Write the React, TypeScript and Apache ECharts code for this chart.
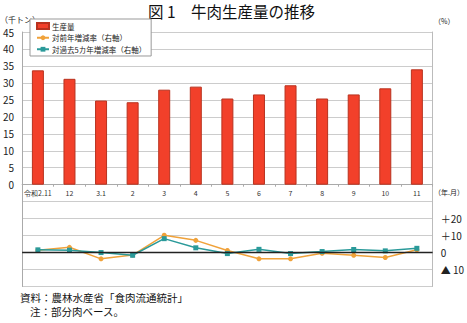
import React, { useEffect, useRef } from "react";
import * as echarts from "echarts";

const categories = ["令和2.11", "12", "3.1", "2", "3", "4", "5", "6", "7", "8", "9", "10", "11"];
const production = [33.7, 31.2, 24.8, 24.3, 28.0, 28.9, 25.4, 26.6, 29.3, 25.4, 26.6, 28.4, 34.0];
const yoyChange = [1.4, 3.1, -3.7, -1.5, 10.2, 7.2, 1.2, -3.7, -3.7, -0.4, -1.6, -2.9, 1.6];
const fiveYearChange = [1.6, 1.4, 0.0, -1.6, 8.2, 2.8, -0.6, 1.9, -0.6, 0.6, 1.8, 1.0, 2.5];

const seriesNames = ["生産量", "対前年増減率（右軸）", "対過去5カ年増減率（右軸）"];
const rightTickLabels: Record<string, string> = { "20": "＋20", "10": "＋10", "0": "0", "-10": "▲ 10" };

const FONT = "'Noto Sans CJK JP', 'Noto Sans', sans-serif";

const GRID_TOP = 32;
const GRID_BOTTOM = 36.5;
const LEFT_MIN = -30;
const LEFT_MAX = 45;

export default function App() {
  const ref = useRef<HTMLDivElement>(null);
  useEffect(() => {
    if (!ref.current) return;
    const chart = echarts.init(ref.current, undefined, { renderer: "svg" });
    const gridH = 323 - GRID_TOP - GRID_BOTTOM;
    const zeroOffset = -gridH * (0 - LEFT_MIN) / (LEFT_MAX - LEFT_MIN);
    chart.setOption({
      animation: false,
      textStyle: { fontFamily: FONT },
      grid: { left: 21, right: 34, top: GRID_TOP, bottom: GRID_BOTTOM, containLabel: false },
      legend: {
        orient: "vertical",
        left: 30,
        top: 19,
        itemGap: 4,
        itemWidth: 12,
        itemHeight: 6,
        padding: [3, 5, 3, 6],
        backgroundColor: "#fff",
        borderColor: "#999",
        borderWidth: 1,
        borderRadius: 0,
        textStyle: { fontSize: 7.5, color: "#222", fontFamily: FONT, padding: [0, 0, 0, -2] },
        data: [
          { name: seriesNames[0], icon: "rect" },
          { name: seriesNames[1] },
          { name: seriesNames[2] },
        ],
      },
      xAxis: {
        type: "category",
        data: categories,
        position: "bottom",
        offset: zeroOffset,
        axisLine: { show: true, onZero: false, lineStyle: { color: "#aaa", width: 1 } },
        axisTick: { show: true, alignWithLabel: false, length: 2, lineStyle: { color: "#aaa" } },
        axisLabel: { fontSize: 7, color: "#333", margin: 5, interval: 0, fontFamily: FONT },
        splitLine: { show: false },
      },
      yAxis: [
        {
          type: "value",
          min: LEFT_MIN,
          max: LEFT_MAX,
          interval: 5,
          axisLine: { show: true, lineStyle: { color: "#aaa" } },
          axisTick: { show: false },
          axisLabel: {
            fontSize: 10,
            color: "#222",
            margin: 8,
            formatter: (v: number) => (v >= 0 ? String(v) : ""),
          },
          splitLine: { show: true, lineStyle: { color: "#ccc", width: 1 } },
        },
        {
          type: "value",
          min: -20,
          max: 130,
          interval: 10,
          position: "right",
          axisLine: { show: true, lineStyle: { color: "#bbb" } },
          axisTick: { show: false },
          axisLabel: {
            fontSize: 10,
            color: "#222",
            margin: 8,
            formatter: (v: number) => rightTickLabels[String(v)] ?? "",
          },
          splitLine: { show: false },
        },
      ],
      series: [
        {
          name: seriesNames[0],
          type: "bar",
          yAxisIndex: 0,
          data: production,
          barWidth: 12,
          itemStyle: { color: "#F2402A", borderColor: "#B8321F", borderWidth: 1 },
        },
        {
          name: seriesNames[1],
          type: "line",
          yAxisIndex: 1,
          data: yoyChange,
          symbol: "circle",
          symbolSize: 5,
          lineStyle: { color: "#F0A23A", width: 1.5 },
          itemStyle: { color: "#F0A23A" },
          z: 3,
          markLine: {
            silent: true,
            symbol: "none",
            label: { show: false },
            lineStyle: { color: "#222", width: 1.3, type: "solid" },
            data: [{ yAxis: 0 }],
          },
        },
        {
          name: seriesNames[2],
          type: "line",
          yAxisIndex: 1,
          data: fiveYearChange,
          symbol: "rect",
          symbolSize: 5,
          lineStyle: { color: "#2A9A9A", width: 1.5 },
          itemStyle: { color: "#2A9A9A" },
          z: 4,
        },
      ],
      graphic: [
        {
          type: "text",
          left: 148,
          top: 3,
          style: { text: "図 1　牛肉生産量の推移", fontSize: 15.5, fontFamily: FONT, fill: "#111" },
        },
        {
          type: "text",
          left: 0,
          top: 15,
          style: { text: "（千トン）", fontSize: 8, fontFamily: FONT, fill: "#222" },
        },
        {
          type: "text",
          left: 434,
          top: 17,
          style: { text: "（%）", fontSize: 7, fontFamily: FONT, fill: "#222" },
        },
        {
          type: "text",
          left: 434,
          top: 188,
          style: { text: "（年.月）", fontSize: 7, fontFamily: FONT, fill: "#222" },
        },
        {
          type: "text",
          left: 20,
          top: 291,
          style: { text: "資料：農林水産省「食肉流通統計」", fontSize: 10.5, lineHeight: 12, fontFamily: FONT, fill: "#111" },
        },
        {
          type: "text",
          left: 30,
          top: 305,
          style: { text: "注：部分肉ベース。", fontSize: 10.5, lineHeight: 12, fontFamily: FONT, fill: "#111" },
        },
      ],
    });
    return () => chart.dispose();
  }, []);
  return <div ref={ref} style={{ width: 467, height: 323, position: "fixed", left: 0, top: 0, background: "#fff" }} />;
}
